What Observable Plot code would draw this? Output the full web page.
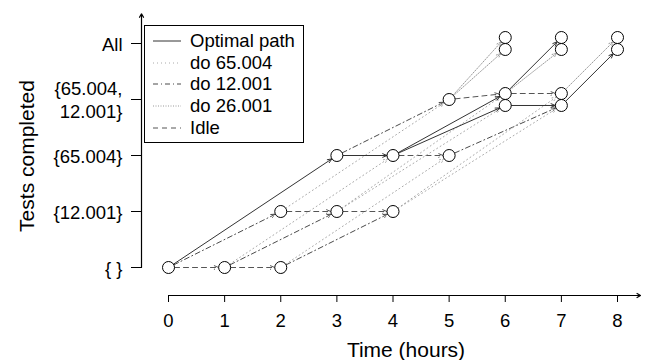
<!DOCTYPE html>
<html><head><meta charset="utf-8">
<script src="https://cdn.jsdelivr.net/npm/d3@7"></script>
<script src="https://cdn.jsdelivr.net/npm/@observablehq/plot@0.6"></script>
<style>
body{margin:0;background:#fff;font-family:"Liberation Sans",Arial,Helvetica,sans-serif;}
#wrap{position:relative;width:647px;height:360px;overflow:hidden;}
#legend{position:absolute;left:144px;top:25px;width:158px;height:116px;border:1px solid #000;background:#fff;}
.row{position:absolute;left:0;height:22px;line-height:22px;font-size:18.5px;white-space:nowrap;}
.row svg{position:absolute;left:8px;top:9px;}
.row span{position:absolute;left:45px;top:0;}
</style></head><body><div id="wrap"></div>
<script>
// axis tick labels
const levelLabels = ["{ }", "{12.001}", "{65.004}", "{65.004,\n12.001}", "All"];
const levelTicks = [0, 1, 2, 3, 4];
const timeTicks = [0, 1, 2, 3, 4, 5, 6, 7, 8];

// states (nodes): time (hours), level index of tests completed, branch
const nodeTime   = [0, 1, 2,  2, 3, 4,  3, 4, 5,  5, 6, 6, 7, 7,  6, 6, 7, 7, 8, 8];
const nodeLevel  = [0, 0, 0,  1, 1, 1,  2, 2, 2,  3, 3, 3, 3, 3,  4, 4, 4, 4, 4, 4];
const nodeBranch = ["", "", "", "", "", "", "", "", "", "",
                    "upper", "lower", "upper", "lower",
                    "upper", "lower", "upper", "lower", "upper", "lower"];

// transitions (edges)
const edgeFrom = [0, 6, 7, 7, 10, 11, 13,
                  0, 1, 3, 4, 7, 9, 10,
                  0, 1, 2, 6, 8,
                  1, 2, 3, 4, 4, 5, 5,
                  9, 9, 10, 12];
const edgeTo   = [6, 7, 10, 11, 16, 13, 19,
                  1, 2, 4, 5, 8, 10, 12,
                  3, 4, 5, 9, 13,
                  7, 8, 9, 10, 11, 12, 13,
                  14, 15, 17, 18];
const edgeType = ["Optimal path","Optimal path","Optimal path","Optimal path","Optimal path","Optimal path","Optimal path",
                  "Idle","Idle","Idle","Idle","Idle","Idle","Idle",
                  "do 12.001","do 12.001","do 12.001","do 12.001","do 12.001",
                  "do 65.004","do 65.004","do 65.004","do 65.004","do 65.004","do 65.004","do 65.004",
                  "do 26.001","do 26.001","do 26.001","do 26.001"];

const legendOrder = ["Optimal path", "do 65.004", "do 12.001", "do 26.001", "Idle"];

// styling
const branchShift = {"": 0, upper: 0.107, lower: -0.107};
const styles = {
  "Optimal path": {stroke: "#333", dash: null},
  "do 65.004":    {stroke: "#aaa", dash: "1,3"},
  "do 12.001":    {stroke: "#4a4a4a", dash: "5,3,1,3"},
  "do 26.001":    {stroke: "#999", dash: "1,1.5"},
  "Idle":         {stroke: "#555", dash: "5,4"}
};
const xAxisLevel = -0.5, yAxisTime = -0.481, xAxisEnd = 8.41, yAxisEnd = 4.53;

const nodes = nodeTime.map((t, i) => ({t, y: nodeLevel[i] + branchShift[nodeBranch[i]]}));
const edges = edgeFrom.map((f, i) => ({
  type: edgeType[i],
  x1: nodes[f].t, y1: nodes[f].y, x2: nodes[edgeTo[i]].t, y2: nodes[edgeTo[i]].y
}));

const edgeMarks = legendOrder.slice().reverse().map(type => Plot.arrow(edges.filter(e => e.type === type), {
  x1: "x1", y1: "y1", x2: "x2", y2: "y2",
  insetStart: 6, insetEnd: 6, headLength: 7, headAngle: 45,
  stroke: styles[type].stroke, strokeWidth: 1,
  strokeDasharray: styles[type].dash ?? undefined
}));

const chart = Plot.plot({
  width: 647, height: 360,
  marginLeft: 141, marginRight: 7, marginTop: 16, marginBottom: 65,
  x: {domain: [0, 8], range: [168, 617]},
  y: {domain: [0, 4], range: [267, 43]},
  style: {fontFamily: "'Liberation Sans', Arial, sans-serif", fontSize: "18.5px", color: "#000", background: "#fff", overflow: "visible"},
  marks: [
    Plot.arrow([0], {x1: 0, x2: xAxisEnd, y1: xAxisLevel, y2: xAxisLevel, stroke: "#000", strokeWidth: 1.2, headLength: 5, headAngle: 60}),
    Plot.arrow([0], {x1: yAxisTime, x2: yAxisTime, y1: 0, y2: yAxisEnd, stroke: "#000", strokeWidth: 1.2, headLength: 5, headAngle: 60}),
    Plot.axisX(timeTicks, {tickSize: 7, tickPadding: 11, label: null, stroke: "#000"}),
    Plot.axisY(levelTicks, {tickSize: 10, tickPadding: 9, label: null, tickFormat: d => levelLabels[d], lineHeight: 1.23, stroke: "#000"}),
    Plot.text(["Time (hours)"], {frameAnchor: "bottom", dx: 15, dy: 55, fontSize: 21, lineAnchor: "middle"}),
    Plot.text(["Tests completed"], {frameAnchor: "left", dx: -114, rotate: -90, fontSize: 21, textAnchor: "middle", lineAnchor: "middle"}),
    ...edgeMarks,
    Plot.dot(nodes, {x: "t", y: "y", r: 6, fill: "#fff", stroke: "#000", strokeWidth: 1})
  ]
});

const wrap = document.getElementById("wrap");
wrap.appendChild(chart);

// legend
const legend = document.createElement("div");
legend.id = "legend";
legendOrder.forEach((type, i) => {
  const row = document.createElement("div");
  row.className = "row";
  row.style.top = (3.7 + i * 21.8) + "px";
  const st = styles[type];
  row.innerHTML = `<svg width="28" height="4"><line x1="0" y1="2" x2="28" y2="2" stroke="${st.stroke}" stroke-width="1" ${st.dash ? `stroke-dasharray="${st.dash}"` : ""}/></svg><span>${type}</span>`;
  legend.appendChild(row);
});
wrap.appendChild(legend);
</script>
</body></html>
